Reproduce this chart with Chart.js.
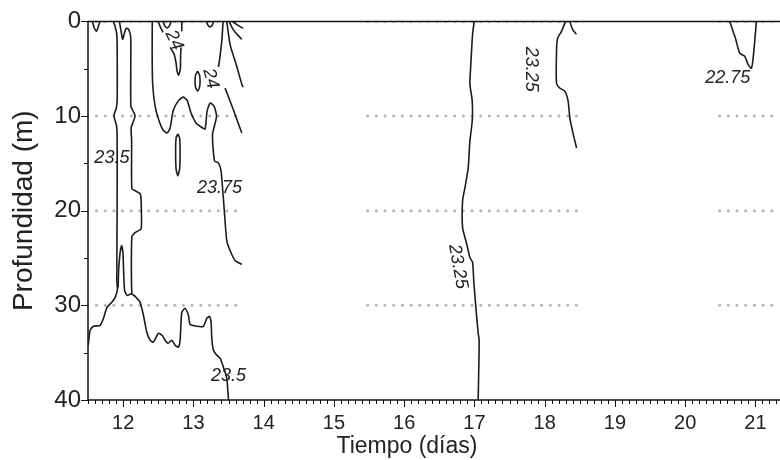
<!DOCTYPE html>
<html lang="es">
<head>
<meta charset="utf-8">
<title>Isotermas</title>
<script src="https://cdn.jsdelivr.net/npm/chart.js@4.4.1/dist/chart.umd.min.js"></script>
<style>
  html, body { margin: 0; padding: 0; background: #fff; }
  #wrap { width: 780px; height: 460px; }
</style>
</head>
<body>
<div id="wrap"><canvas id="perfil" width="780" height="460"></canvas></div>
<script>
const xTicks = [12, 13, 14, 15, 16, 17, 18, 19, 20, 21];
const yTicks = [0, 10, 20, 30, 40];
const gridDepths = [0, 10, 20, 30];
const gridSpans = [[11.62, 13.62], [15.48, 18.52], [20.49, 21.35]];

// isotermas: [tiempo (días), profundidad (m)]
const iso235Somera = [[11.56,0],[11.59,0.7],[11.62,1.05],[11.64,0.7],[11.67,0]];
const iso235Oeste = [[11.86,0],[11.886,0.53],[11.908,1.26],[11.915,2.63],[11.915,8.42],[11.90,9.26],[11.872,9.79],[11.879,10.32],[11.905,10.95],[11.915,12.11],[11.915,18.95],[11.91,27.37],[11.919,28.32],[11.886,29.16],[11.839,29.68],[11.77,30.21],[11.72,31.37],[11.673,32.11],[11.58,32.21],[11.53,32.63],[11.516,33.37],[11.502,34.21]];
const iso235Lengua = [[11.929,28.11],[11.936,26.32],[11.957,24.42],[11.979,23.68],[11.997,24.42],[12.007,26.32],[12.021,28.42],[12.057,28.95],[12.124,28.74]];
const iso235Este = [[11.947,0],[11.971,1.05],[11.993,1.89],[12.014,1.37],[12.043,0.74],[12.078,0.84],[12.107,1.58],[12.110,2.63],[12.110,8.95],[12.142,9.47],[12.171,10.0],[12.142,10.63],[12.114,11.26],[12.121,12.63],[12.124,17.68],[12.171,17.89],[12.242,18.21],[12.256,18.95],[12.256,21.89],[12.171,22.32],[12.124,22.74],[12.124,28.74],[12.171,29.05],[12.242,29.68],[12.289,31.05],[12.337,32.84],[12.384,33.68],[12.427,33.89],[12.469,33.37],[12.502,32.95],[12.555,33.16],[12.597,33.68],[12.640,34.0],[12.693,33.68],[12.740,34.21],[12.787,34.42],[12.811,33.68],[12.835,30.74],[12.882,30.32],[12.929,31.05],[12.953,32.0],[13.048,32.21],[13.142,32.21],[13.191,31.37],[13.228,31.16],[13.252,31.79],[13.262,33.47],[13.285,34.74],[13.333,35.26],[13.380,35.58],[13.427,36.53],[13.475,37.68],[13.498,39.79],[13.498,40]];
const iso2375 = [[12.415,0],[12.413,3.16],[12.42,6.53],[12.455,8.95],[12.512,10.53],[12.569,11.47],[12.626,11.79],[12.669,11.26],[12.711,9.47],[12.782,8.42],[12.853,8.0],[12.910,8.32],[12.967,9.68],[13.038,10.74],[13.110,11.16],[13.166,11.37],[13.195,9.47],[13.238,8.63],[13.294,8.95],[13.33,10.0],[13.30,11.05],[13.273,11.89],[13.280,13.37],[13.302,14.74],[13.356,14.95],[13.394,15.79],[13.418,17.89],[13.437,19.68],[13.475,23.16],[13.522,24.21],[13.593,25.26],[13.689,25.68]];
const iso2375Celda = [[12.778,11.89],[12.804,12.32],[12.811,13.68],[12.804,15.58],[12.778,16.32],[12.754,15.58],[12.747,13.68],[12.754,12.32],[12.778,11.89]];
const iso24Celda = [[13.060,5.26],[13.088,5.68],[13.095,6.32],[13.088,6.95],[13.060,7.37],[13.031,6.95],[13.024,6.32],[13.031,5.68],[13.060,5.26]];
const iso24NorteA = [[12.498,0],[12.526,0.53],[12.569,1.16]];
const iso24NorteB = [[12.669,2.74],[12.726,3.47],[12.754,4.42],[12.768,5.26],[12.789,5.68],[12.814,5.05],[12.818,3.68],[12.825,2.74]];
const iso24NorteC = [[12.835,0],[12.835,1.05]];
const iso24Bolsa1 = [[12.569,0],[12.597,0.53],[12.626,0.68],[12.655,0.53],[12.683,0]];
const iso24Bolsa2 = [[13.188,0],[13.209,0.42],[13.238,0.58],[13.266,0.42],[13.287,0]];
const iso24Abanico1 = [[13.423,0],[13.404,2.11],[13.370,4.21],[13.356,4.84]];
const iso24Abanico2 = [[13.475,0],[13.522,2.42],[13.572,3.68],[13.617,4.74],[13.689,6.63],[13.707,6.95]];
const iso24Abanico3 = [[13.508,0],[13.565,0.84],[13.622,1.37],[13.689,1.89]];
const iso24Abanico4 = [[13.55,0],[13.636,0.42],[13.707,0.74]];
const iso24Diagonal = [[13.451,7.05],[13.565,9.26],[13.689,11.79]];
const iso2325Dia17 = [[16.997,0],[16.974,1.37],[16.946,4.95],[16.936,6.63],[16.969,8.42],[16.969,10.53],[16.936,12.63],[16.912,15.47],[16.865,17.58],[16.832,18.95],[16.832,21.79],[16.889,23.47],[16.936,24.95],[16.974,25.47],[16.993,27.68],[17.021,30.21],[17.054,32.95],[17.068,33.68],[17.054,40]];
const iso2325Dia18 = [[18.297,0],[18.240,1.05],[18.184,1.79],[18.169,3.16],[18.169,6.53],[18.216,7.05],[18.287,7.37],[18.334,8.42],[18.359,10.21],[18.406,11.89],[18.454,13.37]];
const iso2325Gancho = [[18.359,0],[18.397,0.84],[18.454,1.37]];
const iso2275 = [[20.635,0],[20.681,1.05],[20.720,1.89],[20.753,2.84],[20.777,3.37],[20.848,3.68],[20.895,4.53],[20.943,4.95],[20.966,4.0],[20.990,2.11],[21.014,0]];

const isolineas = [iso235Somera, iso235Oeste, iso235Lengua, iso235Este, iso2375, iso2375Celda,
  iso24Celda, iso24NorteA, iso24NorteB, iso24NorteC, iso24Bolsa1, iso24Bolsa2,
  iso24Abanico1, iso24Abanico2, iso24Abanico3, iso24Abanico4, iso24Diagonal,
  iso2325Dia17, iso2325Dia18, iso2325Gancho, iso2275];

// rótulos de las isotermas
const etiquetas = ['23.5', '23.75', '23.5', '24', '24', '23.25', '23.25', '22.75'];
const etiqTiempo = [11.84, 13.373, 13.50, 12.725, 13.245, 17.80, 16.765, 20.606];
const etiqProf = [14.42, 17.58, 37.47, 2.0, 6.05, 5.05, 25.89, 6.0];
const etiqAngulo = [0, 0, 0, 65, 75, 90, 80, 0];

const FUENTE = "'Liberation Sans', Arial, sans-serif";

const datasets = isolineas.map(linea => ({
    data: linea.map(([t, d]) => ({ x: t, y: d })),
    showLine: true,
    borderColor: '#1c1c1c',
    borderWidth: 1.6,
    pointRadius: 0,
    tension: 0.2,
    order: 0
}));

// líneas punteadas de referencia
gridDepths.forEach(d => {
    gridSpans.forEach(([t0, t1]) => {
        datasets.push({
            data: [{ x: t0, y: d }, { x: t1, y: d }],
            showLine: true,
            borderColor: '#b4b4b4',
            borderWidth: 3,
            borderDash: [0, 8.7],
            borderCapStyle: 'round',
            pointRadius: 0,
            order: 1
        });
    });
});

const marcoEjes = {
    id: 'marcoEjes',
    afterDatasetsDraw(chart) {
        const { ctx, chartArea: a, scales: { x, y } } = chart;
        ctx.save();
        ctx.strokeStyle = '#111';
        ctx.lineWidth = 1.5;
        ctx.beginPath();
        ctx.moveTo(a.left, a.top); ctx.lineTo(a.right, a.top);
        ctx.moveTo(a.left, a.top); ctx.lineTo(a.left, a.bottom); ctx.lineTo(a.right, a.bottom);
        ctx.stroke();

        ctx.lineWidth = 1;
        ctx.beginPath();
        for (let i = Math.ceil(x.min * 10); i <= Math.floor(x.max * 10); i++) {
            const px = Math.round(x.getPixelForValue(i / 10)) + 0.5;
            const len = i % 10 === 0 ? 7 : 4;
            ctx.moveTo(px, a.bottom); ctx.lineTo(px, a.bottom + len);
        }
        for (let d = 0; d <= 40; d += 5) {
            const py = Math.round(y.getPixelForValue(d)) + 0.5;
            const len = d % 10 === 0 ? 7 : 4;
            ctx.moveTo(a.left, py); ctx.lineTo(a.left - len, py);
        }
        ctx.stroke();

        ctx.fillStyle = '#222';
        ctx.font = 'italic 18px ' + FUENTE;
        ctx.textAlign = 'center';
        ctx.textBaseline = 'middle';
        etiquetas.forEach((txt, i) => {
            ctx.save();
            ctx.translate(x.getPixelForValue(etiqTiempo[i]), y.getPixelForValue(etiqProf[i]));
            ctx.rotate(etiqAngulo[i] * Math.PI / 180);
            ctx.fillText(txt, 0, 0);
            ctx.restore();
        });

        // título del eje de tiempo, centrado bajo el día 16
        ctx.font = '23px ' + FUENTE;
        ctx.textBaseline = 'alphabetic';
        ctx.fillText('Tiempo (días)', x.getPixelForValue(16.04), 453);
        ctx.restore();
    }
};

new Chart(document.getElementById('perfil'), {
    type: 'scatter',
    data: { datasets },
    options: {
        responsive: false,
        animation: false,
        layout: { padding: { top: 20, right: 0, bottom: 0, left: 0 } },
        plugins: { legend: { display: false }, tooltip: { enabled: false } },
        scales: {
            x: {
                type: 'linear',
                min: 11.5,
                max: 21.35,
                afterBuildTicks: s => { s.ticks = xTicks.map(v => ({ value: v })); },
                afterFit: s => { s.height = 60; },
                grid: { display: false, drawTicks: false },
                border: { display: false },
                ticks: { padding: 11, color: '#222', font: { family: FUENTE, size: 20 } }
            },
            y: {
                type: 'linear',
                reverse: true,
                min: 0,
                max: 40,
                afterBuildTicks: s => { s.ticks = yTicks.map(v => ({ value: v })); },
                afterFit: s => { s.width = 88; },
                grid: { display: false, drawTicks: false },
                border: { display: false },
                ticks: { padding: 7, color: '#222', font: { family: FUENTE, size: 24 } },
                title: { display: true, text: 'Profundidad (m)', color: '#222', padding: { top: 7, bottom: 0 },
                         font: { family: FUENTE, size: 28 } }
            }
        }
    },
    plugins: [marcoEjes]
});
</script>
</body>
</html>
